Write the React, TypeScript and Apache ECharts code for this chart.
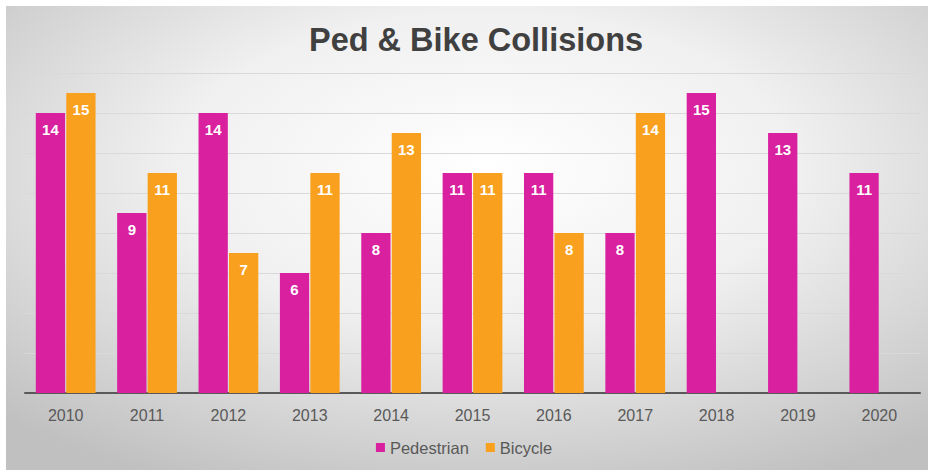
import React, { useEffect, useRef } from "react";
import * as echarts from "echarts";

const categories = ["2010", "2011", "2012", "2013", "2014", "2015", "2016", "2017", "2018", "2019", "2020"];
const pedestrian = [14, 9, 14, 6, 8, 11, 11, 8, 15, 13, 11];
const bicycle: (number | null)[] = [15, 11, 7, 11, 13, 11, 8, 14, null, null, null];

export default function App() {
  const ref = useRef<HTMLDivElement>(null);
  useEffect(() => {
    if (!ref.current) return;
    const chart = echarts.init(ref.current, undefined, { renderer: "svg" });
    const labelStyle = {
      show: true,
      position: "insideTop" as const,
      distance: 9,
      color: "#ffffff",
      fontWeight: "bold" as const,
      fontSize: 15,
      fontFamily: "Liberation Sans, Arial, sans-serif",
    };
    chart.setOption({
      animation: false,
      graphic: [
        {
          type: "rect",
          z: -10,
          silent: true,
          shape: { x: 6, y: 6, width: 922, height: 464 },
          style: {
            fill: {
              type: "radial",
              x: 0.52,
              y: 0.35,
              r: 0.75,
              colorStops: [
                { offset: 0, color: "#ffffff" },
                { offset: 0.45, color: "#f0f0f0" },
                { offset: 1, color: "#c0c0c0" },
              ],
            },
          },
        },
      ],
      title: {
        text: "Ped & Bike Collisions",
        left: 471,
        textAlign: "center",
        top: 18,
        textStyle: {
          fontFamily: "Liberation Sans, Arial, sans-serif",
          fontWeight: "bold",
          fontSize: 32.5,
          color: "#404040",
        },
      },
      legend: {
        top: 434,
        left: "center",
        itemWidth: 9,
        itemHeight: 9,
        itemGap: 17,
        icon: "rect",
        textStyle: {
          fontFamily: "Liberation Sans, Arial, sans-serif",
          fontSize: 16.5,
          color: "#595959",
          padding: [0, 0, 0, 0],
        },
        data: ["Pedestrian", "Bicycle"],
      },
      grid: { left: 25, right: 8, top: 73, bottom: 77, containLabel: false },
      xAxis: {
        type: "category",
        data: categories,
        axisLine: { lineStyle: { color: "#595959", width: 2 } },
        axisTick: { show: false },
        axisLabel: {
          margin: 14,
          fontFamily: "Liberation Sans, Arial, sans-serif",
          fontSize: 16,
          color: "#595959",
        },
      },
      yAxis: {
        type: "value",
        min: 0,
        max: 16,
        interval: 2,
        axisLabel: { show: false },
        axisLine: { show: false },
        axisTick: { show: false },
        splitLine: { lineStyle: { color: "#d9d9d9", width: 1 } },
      },
      series: [
        {
          name: "Pedestrian",
          type: "bar",
          data: pedestrian,
          barWidth: "36%",
          barGap: "4%",
          itemStyle: { color: "#d9209f" },
          label: labelStyle,
        },
        {
          name: "Bicycle",
          type: "bar",
          data: bicycle,
          barWidth: "36%",
          barGap: "4%",
          itemStyle: { color: "#f9a11e" },
          label: labelStyle,
        },
      ],
    });
    return () => chart.dispose();
  }, []);
  return (
    <div style={{ position: "absolute", left: 0, top: 0, width: 928, height: 470, background: "#ffffff" }}>
      <div ref={ref} style={{ width: 928, height: 470 }} />
    </div>
  );
}
